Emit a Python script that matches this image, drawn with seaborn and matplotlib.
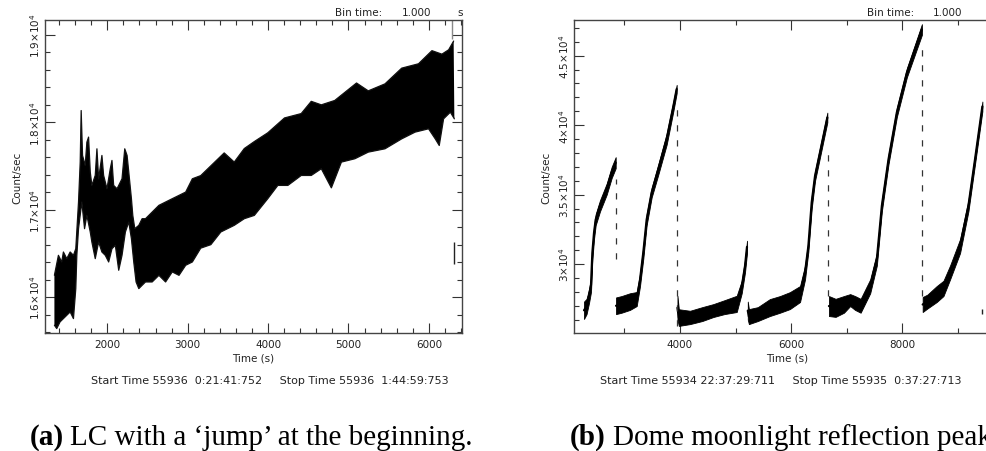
import matplotlib
matplotlib.use("Agg")
import matplotlib.pyplot as plt
import numpy as np
import pandas as pd
import seaborn as sns
from matplotlib.ticker import MultipleLocator, FixedLocator

# ---------------- data ----------------
# panel (a): upper and lower edge of the noisy light curve
a_up_time = [1342, 1392, 1433, 1454, 1496, 1538, 1579, 1608, 1642, 1663, 1675, 1692,
             1725, 1746, 1767, 1788, 1808, 1850, 1871, 1892, 1933, 1954, 1996, 2037,
             2058, 2079, 2121, 2142, 2183, 2217, 2246, 2267, 2300, 2317, 2342, 2392,
             2433, 2475, 2558, 2642, 2725, 2808, 2892, 2975, 3058, 3162, 3454, 3579,
             3704, 3829, 3996, 4204, 4412, 4537, 4662, 4829, 5100, 5246, 5454, 5662,
             5871, 6038, 6162, 6246, 6308]
a_up_value = [16249, 16478, 16402, 16516, 16440, 16516, 16478, 16554, 17088, 17545, 18135, 17621,
              17507, 17773, 17831, 17431, 17278, 17393, 17697, 17354, 17621, 17393, 17240, 17469,
              17564, 17278, 17240, 17278, 17354, 17697, 17621, 17431, 17126, 16935, 16783, 16821,
              16897, 16897, 16973, 17050, 17088, 17126, 17164, 17202, 17354, 17390, 17650, 17545,
              17700, 17780, 17880, 18050, 18100, 18240, 18200, 18250, 18450, 18360, 18440, 18620,
              18670, 18820, 18780, 18830, 18930]
a_low_time = [1342, 1371, 1412, 1454, 1496, 1538, 1579, 1608, 1621, 1642, 1683, 1717,
              1746, 1788, 1808, 1850, 1892, 1933, 1975, 2017, 2058, 2100, 2142, 2183,
              2225, 2267, 2300, 2329, 2358, 2392, 2433, 2475, 2558, 2642, 2725, 2808,
              2892, 2975, 3058, 3162, 3288, 3412, 3579, 3704, 3829, 3996, 4121, 4246,
              4412, 4537, 4662, 4787, 4912, 5079, 5246, 5454, 5662, 5829, 5996, 6079,
              6129, 6183, 6267, 6317]
a_low_value = [15678, 15640, 15716, 15754, 15792, 15830, 15754, 16097, 16478, 16783, 17088, 16783,
               16935, 16745, 16630, 16440, 16630, 16516, 16478, 16402, 16554, 16592, 16307, 16478,
               16745, 16859, 16668, 16402, 16173, 16097, 16135, 16173, 16173, 16249, 16173, 16288,
               16249, 16364, 16402, 16560, 16600, 16745, 16821, 16897, 16935, 17126, 17278, 17278,
               17392, 17392, 17469, 17250, 17545, 17583, 17659, 17697, 17811, 17888, 17926, 17811,
               17735, 18040, 18116, 18040]
# isolated bins in panel (a)
a_iso_time = [6290, 6316]
a_iso_low = [18955, 16380]
a_iso_high = [19180, 16630]
a_iso_color = ["#888888", "#222222"]

# panel (b): six segments, envelope (low, high)
b_segments = [
    dict(time=[2274, 2320, 2364, 2400, 2424, 2454, 2484, 2562, 2682, 2772, 2844],
         low=[26050, 26400, 27200, 28000, 30300, 31800, 32800, 33800, 35000, 36200, 36900],
         high=[27300, 27500, 28200, 29000, 31300, 32700, 33600, 34600, 35800, 37000, 37700]),
    dict(time=[2850, 2950, 3100, 3222, 3281, 3341, 3401, 3491, 3611, 3761, 3881, 3941],
         low=[26400, 26500, 26700, 26980, 28400, 30400, 32800, 34800, 36450, 38600, 41000, 42300],
         high=[27600, 27700, 27900, 27990, 29300, 31300, 33600, 35500, 37200, 39400, 41700, 42900]),
    dict(time=[3955, 3980, 4181, 4400, 4601, 4800, 5021, 5111, 5170, 5206],
         low=[26000, 25550, 25680, 25900, 26190, 26400, 26550, 27900, 29400, 30800],
         high=[27720, 26750, 26640, 26900, 27120, 27400, 27720, 28800, 30300, 31680]),
    dict(time=[5220, 5240, 5400, 5617, 5800, 5977, 6160, 6250, 6310, 6370, 6430, 6520, 6651],
         low=[26000, 25680, 25900, 26260, 26500, 26760, 27270, 28900, 30900, 34000, 36000, 37700, 40200],
         high=[27300, 26760, 26900, 27480, 27700, 27980, 28420, 29900, 31700, 34900, 36700, 38400, 40900]),
    dict(time=[6680, 6800, 6950, 7062, 7150, 7250, 7422, 7542, 7632, 7752, 7902, 8082, 8352],
         low=[26260, 26200, 26500, 26980, 26700, 26500, 27900, 29900, 33800, 37200, 40600, 43450, 46500],
         high=[27700, 27500, 27700, 27840, 27700, 27500, 28900, 30800, 34600, 37900, 41250, 44100, 47270]),
    dict(time=[8366, 8450, 8619, 8740, 8859, 9039, 9189, 9308, 9440],
         low=[26550, 26800, 27270, 27700, 28900, 30800, 33800, 37200, 41000],
         high=[27630, 27800, 28420, 28800, 29900, 31800, 34600, 37900, 41700]),
]
# scattered bad bins at segment ends (drawn dashed)
b_dash_time = [2844, 3946, 6668, 8345]
b_dash_low = [30360, 25540, 27700, 27700]
b_dash_high = [36110, 41150, 38270, 45470]
b_iso_time = [9439]
b_iso_low = [26400]
b_iso_high = [26760]

a_xticks = [2000, 3000, 4000, 5000, 6000]
a_yticks = [16000, 17000, 18000, 19000]
a_ylabels = ["1.6×10$^4$", "1.7×10$^4$", "1.8×10$^4$", "1.9×10$^4$"]
b_xticks = [4000, 6000, 8000]
b_yticks = [30000, 35000, 40000, 45000]
b_ylabels = ["3×10$^4$", "3.5×10$^4$", "4×10$^4$", "4.5×10$^4$"]

a_footer = "Start Time 55936  0:21:41:752     Stop Time 55936  1:44:59:753"
b_footer = "Start Time 55934 22:37:29:711     Stop Time 55935  0:37:27:713"

# ---------------- style ----------------
sns.set_theme(style="ticks")
plt.rcParams['font.family'] = ['DejaVu Sans']
plt.rcParams['mathtext.fontset'] = 'dejavusans'
plt.rcParams['axes.edgecolor'] = '#444444'
plt.rcParams['axes.linewidth'] = 1.0

W, H = 986, 452
fig = plt.figure(figsize=(W / 100, H / 100), dpi=100)
axA = fig.add_axes([45 / W, (H - 334) / H, 417 / W, 313 / H])
axB = fig.add_axes([574 / W, (H - 334) / H, 426 / W, 313 / H])

# panel (a): polygon between the two edges, edges drawn with seaborn
poly_t = list(a_up_time) + list(a_low_time)[::-1]
poly_v = list(a_up_value) + list(a_low_value)[::-1]
axA.fill(poly_t, poly_v, color="black", lw=0)
edges = pd.concat([
    pd.DataFrame({"t": a_up_time, "v": a_up_value, "edge": "up"}),
    pd.DataFrame({"t": a_low_time, "v": a_low_value, "edge": "low"})])
sns.lineplot(data=edges, x="t", y="v", units="edge", estimator=None,
             color="#111111", lw=0.9, ax=axA)
for t, lo, hi, c in zip(a_iso_time, a_iso_low, a_iso_high, a_iso_color):
    axA.vlines(t, lo, hi, color=c, lw=1)


def band(ax, t, lo, hi):
    df = pd.DataFrame({"t": list(t) + list(t), "v": list(lo) + list(hi)})
    sns.lineplot(data=df, x="t", y="v", estimator="mean", errorbar=("pi", 100),
                 color="black", lw=1.6, ax=ax,
                 err_kws={"alpha": 1, "linewidth": 0.6, "edgecolor": "black"})


for seg in b_segments:
    band(axB, seg["time"], seg["low"], seg["high"])
axB.vlines(b_dash_time, b_dash_low, b_dash_high, color="#333333", lw=0.9,
           linestyles=(0, (5, 7)))
axB.vlines(b_iso_time, b_iso_low, b_iso_high, color="#222222", lw=1)

axA.set_xlim(1225, 6412)
axA.set_ylim(15589, 19171)
axB.set_xlim(2094, 9757)
axB.set_ylim(25040, 47570)

tick_col = "#333333"
for ax, xt, xminor, yt, ylab, yminor in [
        (axA, a_xticks, 200, a_yticks, a_ylabels, 200),
        (axB, b_xticks, 1000, b_yticks, b_ylabels, 1000)]:
    ax.xaxis.set_major_locator(FixedLocator(xt))
    ax.xaxis.set_minor_locator(MultipleLocator(xminor))
    ax.yaxis.set_major_locator(FixedLocator(yt))
    ax.yaxis.set_minor_locator(MultipleLocator(yminor))
    ax.set_yticklabels(ylab)
    ax.set_xticklabels([str(v) for v in xt])
    ax.tick_params(which="both", direction="in", top=True, right=True,
                   color=tick_col, width=0.8, labelcolor="#222222")
    ax.tick_params(which="major", length=7, labelsize=7.5, pad=4)
    ax.tick_params(axis="y", which="major", pad=2.5)
    ax.tick_params(which="minor", length=3.5)
    for lab in ax.get_yticklabels():
        lab.set_rotation(90)
        lab.set_va("center")
    ax.set_xlabel("Time (s)", fontsize=7.5, color="#222222", labelpad=3)
    ax.set_ylabel("Count/sec", fontsize=7.5, color="#222222", labelpad=4)
    for s in ax.spines.values():
        s.set_color("#444444")
axB.spines["right"].set_visible(False)
axB.tick_params(which="both", right=False)

# header / footer texts
fig.text(335 / W, 1 - 13 / H, "Bin time:", fontsize=7.5, color="#222222", va="center")
fig.text(402 / W, 1 - 13 / H, "1.000", fontsize=7.5, color="#222222", va="center")
fig.text(457 / W, 1 - 13 / H, "s", fontsize=7.5, color="#222222", va="center")
fig.text(867 / W, 1 - 13 / H, "Bin time:", fontsize=7.5, color="#222222", va="center")
fig.text(933 / W, 1 - 13 / H, "1.000", fontsize=7.5, color="#222222", va="center")

fig.text(270 / W, 1 - 381 / H, a_footer, fontsize=8, color="#222222", ha="center", va="center")
fig.text(781 / W, 1 - 381 / H, b_footer, fontsize=8, color="#222222", ha="center", va="center")

# captions
cap_kw = dict(fontsize=21, color="black", va="baseline", family=["Liberation Serif", "DejaVu Serif"])
fig.text(30 / W, 1 - 445 / H, "(a)", fontweight="bold", **cap_kw)
fig.text(70 / W, 1 - 445 / H, "LC with a ‘jump’ at the beginning.", **cap_kw)
fig.text(570 / W, 1 - 445 / H, "(b)", fontweight="bold", **cap_kw)
fig.text(613 / W, 1 - 445 / H, "Dome moonlight reflection peaks.", **cap_kw)

fig.savefig("out.png", dpi=100)
